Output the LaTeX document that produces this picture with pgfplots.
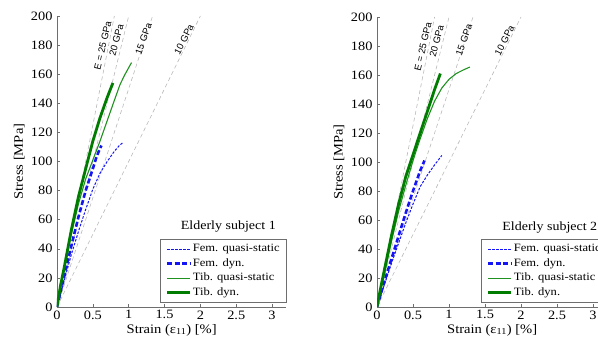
\documentclass[border=0pt]{standalone}
\usepackage{fontspec}
\setmainfont{Liberation Serif}[FakeStretch=1.12]
\newfontfamily\lblfont{Liberation Sans}
\usepackage{pgfplots}
\pgfplotsset{compat=1.18}
\definecolor{fblue}{RGB}{20,20,245}
\definecolor{tgreen}{RGB}{0,125,0}
\definecolor{tgreenl}{RGB}{30,145,30}
\definecolor{refgray}{RGB}{185,185,185}
\definecolor{axgray}{RGB}{110,110,110}
\tikzset{gpa/.style={font=\lblfont\fontsize{9.5}{10}\selectfont, anchor=east, inner sep=1pt}}
\newcommand{\tickfont}{\fontsize{12.8}{13}\selectfont}
\pgfplotsset{
  panel/.style={
    scale only axis, width=229.4pt, height=291pt,
    xmin=0, xmax=3.2, ymin=0, ymax=200,
    axis lines*=left,
    axis line style={axgray, line width=0.5pt},
    xtick={0,0.5,1,1.5,2,2.5,3}, ytick={0,20,...,200},
    xticklabels={{\tickfont 0},{\tickfont 0.5},{\tickfont 1},{\tickfont 1.5},{\tickfont 2},{\tickfont 2.5},{\tickfont 3}},
    yticklabels={{\tickfont 0},{\tickfont 20},{\tickfont 40},{\tickfont 60},{\tickfont 80},{\tickfont 100},{\tickfont 120},{\tickfont 140},{\tickfont 160},{\tickfont 180},{\tickfont 200}},
    yticklabel style={xshift=-1pt},
    tick align=inside, major tick length=3pt, tick style={axgray, line width=0.4pt},
    xlabel={Strain (ε\textsubscript{11}) [\%]}, ylabel={Stress [MPa]},
    every axis y label/.style={at={(axis description cs:-0.165,0.5)}, rotate=90, anchor=center, font=\fontsize{13}{14}\selectfont},
    every axis x label/.style={at={(axis description cs:0.5,-0.079)}, anchor=center, font=\fontsize{13}{14}\selectfont},
    legend cell align=left,
    legend style={at={(axis description cs:1,0.014)}, anchor=south east,
      draw=axgray, fill=white, line width=0.5pt,
      font=\fontsize{11.2}{12}\selectfont,
      nodes={inner sep=1.5pt, text height=7.5pt, text depth=2.5pt},
      row sep=1.5pt, inner xsep=5pt, inner ysep=3.5pt},
    legend image code/.code={\draw[#1] (0pt,0pt) -- (23pt,0pt);},
  },
  refl/.style={refgray, line width=0.6pt, dash pattern=on 4pt off 3pt, forget plot},
  femqs/.style={fblue, line width=1.0pt, dash pattern=on 2.5pt off 1.5pt},
  femdyn/.style={fblue, line width=2.6pt, dash pattern=on 5pt off 2.5pt},
  tibqs/.style={tgreenl, line width=1.1pt},
  tibdyn/.style={tgreen, line width=2.8pt},
}
\newcommand{\reflines}{%
  \addplot[refl] coordinates {(0,0) (0.8,200)};
  \addplot[refl] coordinates {(0,0) (1.0,200)};
  \addplot[refl] coordinates {(0,0) (1.3333,200)};
  \addplot[refl] coordinates {(0,0) (2.0,200)};
  \node[gpa, rotate=77] at (axis cs:0.72,197) {E = 25 GPa};
  \node[gpa, rotate=75] at (axis cs:0.89,195) {20 GPa};
  \node[gpa, rotate=70] at (axis cs:1.29,195.5) {15 GPa};
  \node[gpa, rotate=63] at (axis cs:1.88,194.5) {10 GPa};
}
\begin{document}
\begin{tikzpicture}[x=1pt,y=1pt]
\useasboundingbox (0,0) rectangle (598,347);
\clip (0,0) rectangle (598,347);
% ---------- left panel ----------
\begin{axis}[panel, at={(57pt,40pt)}, anchor=south west]
\reflines
\addplot[femqs] coordinates {(0,0) (0.1,18) (0.2,36) (0.3,52) (0.4,67) (0.5,81) (0.6,92) (0.7,100) (0.8,107) (0.87,111) (0.92,113)};
\addlegendentry{Fem. quasi-static}
\addplot[femdyn] coordinates {(0,0) (0.1,21) (0.2,42) (0.3,62) (0.4,80) (0.5,95) (0.55,103) (0.6,109) (0.62,111)};
\addlegendentry{Fem. dyn.}
\addplot[tibqs] coordinates {(0,0) (0.05,15) (0.1,26) (0.2,50) (0.3,71) (0.4,88) (0.5,101) (0.6,114) (0.7,128) (0.8,142) (0.88,153) (0.95,160) (1.04,168)};
\addlegendentry{Tib. quasi-static}
\addplot[tibdyn] coordinates {(0,0) (0.05,15) (0.1,27) (0.2,53) (0.3,76) (0.4,95) (0.5,114) (0.6,130) (0.7,144) (0.78,154)};
\addlegendentry{Tib. dyn.}
\node[font=\fontsize{12.5}{14}\selectfont] at (axis cs:2.39,55) {Elderly subject 1};
\end{axis}
% ---------- right panel ----------
\begin{axis}[panel, width=230.4pt, height=290pt, at={(377pt,40pt)}, anchor=south west]
\reflines
\addplot[femqs] coordinates {(0,0) (0.1,15) (0.2,30) (0.3,44) (0.4,58) (0.5,71) (0.6,83) (0.7,91) (0.8,98) (0.9,104.5)};
\addlegendentry{Fem. quasi-static}
\addplot[femdyn] coordinates {(0,0) (0.1,17) (0.2,33) (0.3,49) (0.4,65) (0.5,80) (0.6,94) (0.66,101)};
\addlegendentry{Fem. dyn.}
\addplot[tibqs] coordinates {(0,0) (0.05,12) (0.1,22) (0.2,45) (0.3,66) (0.4,84) (0.5,101) (0.6,116) (0.7,130) (0.8,142) (0.9,151) (1.0,157) (1.1,161) (1.2,163.5) (1.29,165.5)};
\addlegendentry{Tib. quasi-static}
\addplot[tibdyn] coordinates {(0,0) (0.05,13) (0.1,25) (0.2,49) (0.3,71) (0.4,90) (0.5,105) (0.6,120) (0.7,135) (0.8,150) (0.88,161)};
\addlegendentry{Tib. dyn.}
\node[font=\fontsize{12.5}{14}\selectfont] at (axis cs:2.40,55) {Elderly subject 2};
\end{axis}
\end{tikzpicture}
\end{document}
